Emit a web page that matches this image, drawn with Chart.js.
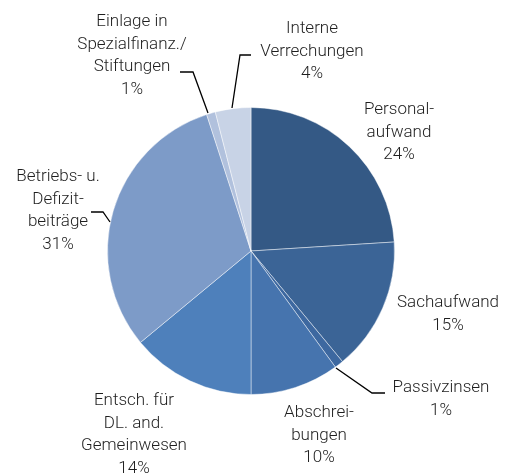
<!DOCTYPE html>
<html>
<head>
<meta charset="utf-8">
<script src="https://cdn.jsdelivr.net/npm/chart.js@4/dist/chart.umd.min.js"></script>
<style>
    html, body { margin: 0; padding: 0; background: #fff; }
    #wrap { width: 506px; height: 473px; }
</style>
</head>
<body>
<div id="wrap"><canvas id="grafico" width="506" height="473"></canvas></div>
<script>
// Aufwand nach Sachgruppen, Anteile in Prozent
const categories = [
    'Personalaufwand',
    'Sachaufwand',
    'Passivzinsen',
    'Abschreibungen',
    'Entsch. für DL. and. Gemeinwesen',
    'Betriebs- u. Defizitbeiträge',
    'Einlage in Spezialfinanz./Stiftungen',
    'Interne Verrechungen'
];
const values = [24, 15, 1, 10, 14, 31, 1, 4];
const colors = ['#345985', '#3b6496', '#3d68a0', '#4674ae', '#4e80bb', '#7d9bc8', '#b1c1dd', '#c8d3e6'];

// label text lines (without the percent line)
const labelLines = [
    ['Personal-', 'aufwand'],
    ['Sachaufwand'],
    ['Passivzinsen'],
    ['Abschrei-', 'bungen'],
    ['Entsch. für', 'DL. and.', 'Gemeinwesen'],
    ['Betriebs- u.', 'Defizit-', 'beiträge'],
    ['Einlage in', 'Spezialfinanz./', 'Stiftungen'],
    ['Interne', 'Verrechungen']
];

// where each label block sits (center x, first line y) and its leader line
const labelPos = [
    { x: 399, y: 110 },
    { x: 448, y: 303 },
    { x: 441, y: 388, leader: [[385, 393], [372, 393], [336, 368]] },
    { x: 319, y: 413 },
    { x: 134, y: 401 },
    { x: 58, y: 177, leader: [[91, 212], [103, 212], [110, 222]] },
    { x: 132, y: 22, leader: [[180, 72], [193, 72], [208, 113]] },
    { x: 312, y: 29, leader: [[251, 55], [240, 55], [232, 108]] }
];

const lineHeight = 22.5;

const pieLabels = {
    id: 'pieLabels',
    afterDraw(chart) {
        const ctx = chart.ctx;
        const total = values.reduce((a, b) => a + b, 0);
        ctx.save();
        ctx.font = '300 17px Roboto, "Liberation Sans", sans-serif';
        ctx.fillStyle = '#1e1e1e';
        ctx.textAlign = 'center';
        ctx.textBaseline = 'middle';
        values.forEach((v, i) => {
            const p = labelPos[i];
            const lines = labelLines[i].concat([Math.round(v / total * 100) + '%']);
            lines.forEach((t, k) => ctx.fillText(t, p.x, p.y + k * lineHeight));
            if (p.leader) {
                ctx.beginPath();
                ctx.strokeStyle = '#000';
                ctx.lineWidth = 1.3;
                p.leader.forEach((pt, k) => k ? ctx.lineTo(pt[0], pt[1]) : ctx.moveTo(pt[0], pt[1]));
                ctx.stroke();
            }
        });
        ctx.restore();
    }
};

const ctx = document.getElementById('grafico').getContext('2d');

new Chart(ctx, {
    type: 'pie',
    data: {
        labels: categories,
        datasets: [{
            data: values,
            backgroundColor: colors,
            borderColor: 'rgba(255,255,255,0.45)',
            borderWidth: 1
        }]
    },
    options: {
        responsive: false,
        animation: false,
        layout: { padding: { left: 107, right: 111, top: 107, bottom: 78 } },
        plugins: {
            legend: { display: false },
            tooltip: { enabled: false }
        }
    },
    plugins: [pieLabels]
});
</script>
</body>
</html>
